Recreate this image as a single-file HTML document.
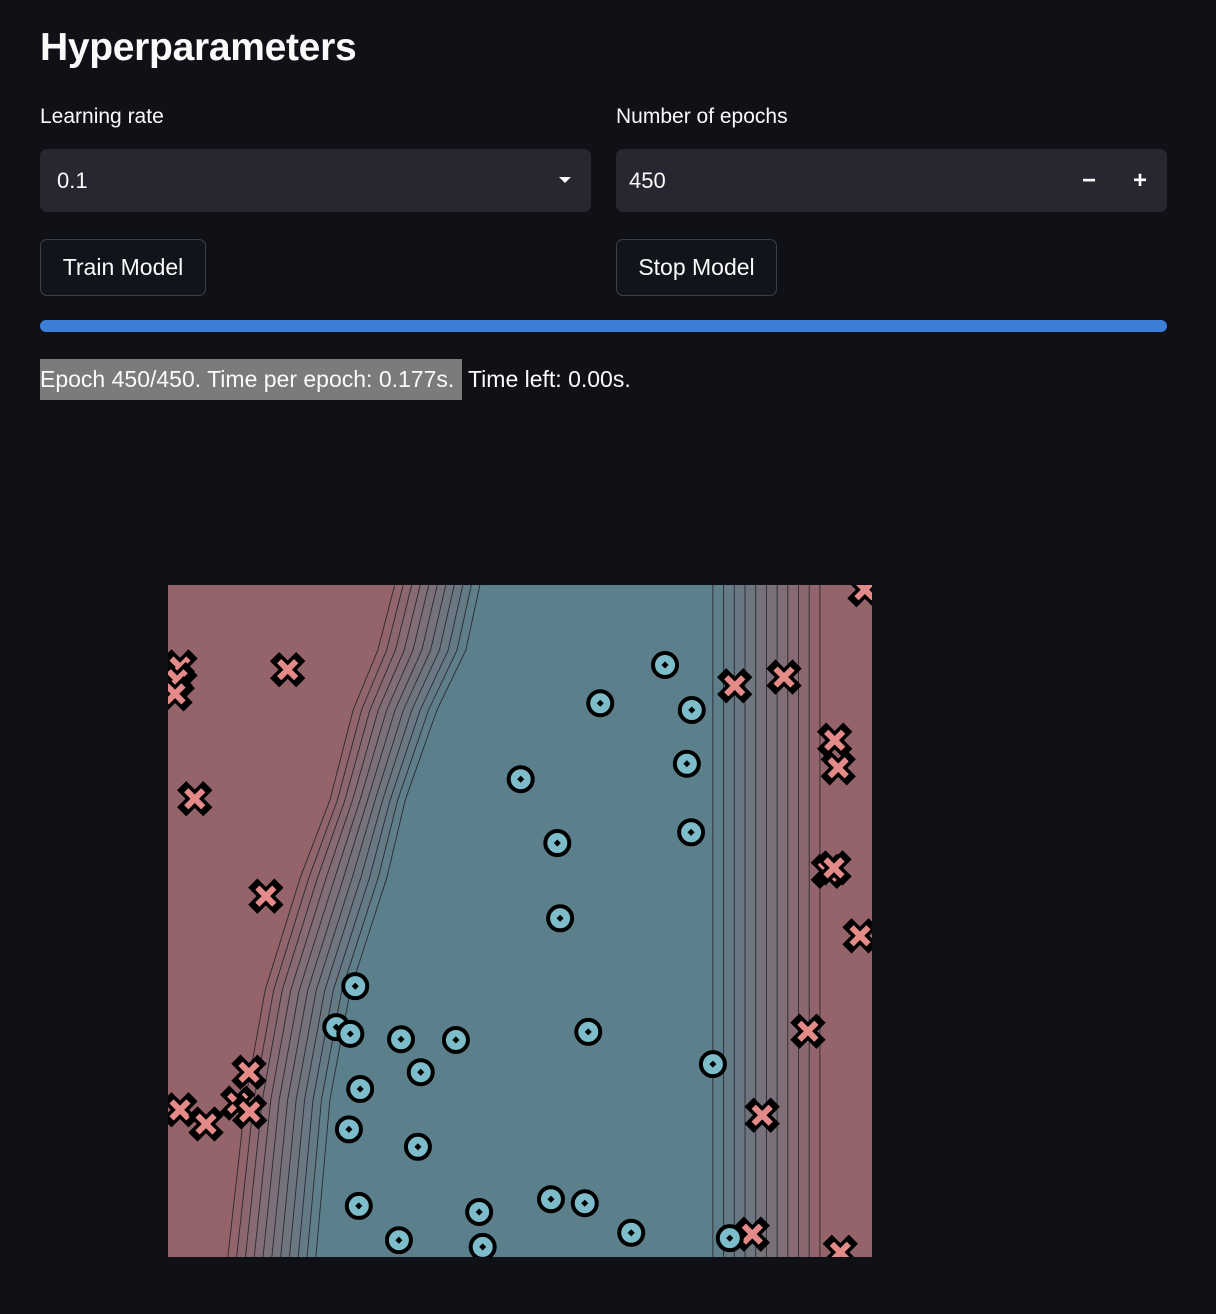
<!DOCTYPE html>
<html><head><meta charset="utf-8">
<style>
body{margin:0;background:#0f1117;width:1216px;height:1314px;overflow:hidden;font-family:"Liberation Sans",sans-serif;color:#fafafa;position:relative}
.abs{position:absolute}
h1{position:absolute;left:40px;top:26px;margin:0;font-size:39px;font-weight:bold;letter-spacing:-0.3px}
.lbl{font-size:21px;top:105px}
.box{background:#262730;border-radius:7px;top:149px;height:63px;width:551px;font-size:22px;line-height:63px}
.btn{top:239px;height:55px;border:1px solid #3d3f4a;border-radius:7px;background:#12141b;font-size:23px;line-height:55px;text-align:center}
</style></head><body>
<h1>Hyperparameters</h1>
<div class="abs lbl" style="left:40px">Learning rate</div>
<div class="abs lbl" style="left:616px">Number of epochs</div>
<div class="abs box" style="left:40px"><span style="margin-left:17px">0.1</span>
<span class="abs" style="right:20px;top:28px;width:0;height:0;border-left:6px solid transparent;border-right:6px solid transparent;border-top:6px solid #fafafa"></span></div>
<div class="abs box" style="left:616px"><span style="margin-left:13px">450</span>
<span class="abs" style="left:466px;top:0;font-size:24px;font-weight:bold">−</span>
<span class="abs" style="left:517px;top:0;font-size:24px;font-weight:bold">+</span></div>
<div class="abs btn" style="left:40px;width:164px">Train Model</div>
<div class="abs btn" style="left:616px;width:159px">Stop Model</div>
<div class="abs" style="left:40px;top:320px;width:1127px;height:12px;border-radius:6px;background:#3d7fd8"></div>
<div class="abs" style="left:40px;top:359px;height:40px;line-height:41px;font-size:23px;white-space:nowrap"><span style="background:#7b7b7b;display:inline-block;width:422px">Epoch 450/450. Time per epoch: 0.177s.</span> Time left: 0.00s.</div>
<svg id="chart" class="abs" style="left:0;top:0" width="1216" height="1314"></svg>
<script>
const classAX=[70.6,61.4,74.4,50.1,73.7,55.3,74.3,55.7,26.6,23.9,25.9,33.1,40.9,59.7,35.9,77.4,27.3,25.7,35.5,27.1,44.2,54.4,59.2,32.8,44.7,65.8,79.8];
const classAY=[88.1,82.4,81.4,71.1,73.4,61.6,63.2,50.4,40.3,34.2,33.2,32.4,32.3,33.5,27.5,28.7,25.0,19.0,16.4,7.6,6.7,8.6,8.0,2.5,1.5,3.6,2.8];
const classBX=[1.7,1.3,1.0,17.0,80.5,87.5,94.7,95.2,3.8,13.9,93.8,94.6,98.3,90.9,11.5,9.9,11.6,1.7,5.4,84.4,83.0,95.5,99.0];
const classBY=[87.8,85.9,83.8,87.4,85.0,86.3,76.9,72.8,68.2,53.7,57.4,57.9,47.8,33.6,27.5,22.9,21.6,21.9,19.8,21.1,3.4,0.7,99.3];
const leftBandY=[100,90.3,81.4,68.0,56.5,39.7,23.4,0];
const leftBandLo=[32.2,29.8,26.3,23.0,18.8,13.8,11.0,8.5];
const leftBandHi=[44.3,42.3,38.2,33.7,31.1,25.9,23.0,21.0];
const rightBandLo=77.4, rightBandHi=92.6;
const contourCount=11;

const X0=168,X1=872,Y0=1257,Y1=585;
const sx=v=>X0+v/100*(X1-X0), sy=v=>Y0-v/100*(Y0-Y1);
const svg=document.getElementById('chart');const NS='http://www.w3.org/2000/svg';
function mk(t,a){const e=document.createElementNS(NS,t);for(const k in a)e.setAttribute(k,a[k]);svg.appendChild(e);return e;}
const red=[149,99,106],blue=[91,127,139];
const mix=t=>'rgb('+red.map((c,i)=>Math.round(c+(blue[i]-c)*t)).join(',')+')';
let bg=mk('rect',{x:X0,y:Y1,width:X1-X0,height:Y0-Y1,fill:mix(1)});


function leftPath(f){return leftBandY.map((y,i)=>sx(leftBandLo[i]+(leftBandHi[i]-leftBandLo[i])*f)+','+sy(y));}
const n=contourCount-1;
for(let k=-1;k<n;k++){
 const a=k<0?null:leftPath(k/n), b=leftPath((k+1)/n);
 const pts=(a?a:leftBandY.map(y=>sx(0)+','+sy(y))).concat(b.slice().reverse());
 const p=mk('polygon',{points:pts.join(' '),fill:mix(Math.max(0,(k+0.5)/n))});
 
 
}
for(let k=-1;k<n;k++){
 const xa=k<0?100:rightBandHi-(rightBandHi-rightBandLo)*k/n;
 const xb=rightBandHi-(rightBandHi-rightBandLo)*(k+1)/n;
 const r=mk('rect',{x:sx(xb),y:Y1,width:sx(xa)-sx(xb),height:Y0-Y1,fill:mix(Math.max(0,(k+0.5)/n))});
 
 
}
for(let k=0;k<=n;k++){
 const l=mk('polyline',{points:leftPath(k/n).join(' '),fill:'none',stroke:'#2a2a30','stroke-width':0.9});
 
 
 const x=sx(rightBandLo+(rightBandHi-rightBandLo)*k/n);
 const r=mk('line',{x1:x,x2:x,y1:Y1,y2:Y0,stroke:'#2a2a30','stroke-width':0.9});
 
 
}
const clip=mk('clipPath',{id:'cp'});
const cr=document.createElementNS(NS,'rect');cr.setAttribute('x',X0);cr.setAttribute('y',Y1);cr.setAttribute('width',X1-X0);cr.setAttribute('height',Y0-Y1);clip.appendChild(cr);
const g=mk('g',{'clip-path':'url(#cp)'});
function add(t,a){const e=document.createElementNS(NS,t);for(const k in a)e.setAttribute(k,a[k]);g.appendChild(e);return e;}
classBX.forEach((v,i)=>{
 const cx=sx(v),cy=sy(classBY[i]),d=8.5;
 const grp=document.createElementNS(NS,'g');g.appendChild(grp);
 
 
 [['#000',13,'square'],['#e48a88',6,'butt']].forEach(([c,w,cap])=>{
  [[-d,-d,d,d],[-d,d,d,-d]].forEach(q=>{const l=document.createElementNS(NS,'line');
   l.setAttribute('x1',cx+q[0]);l.setAttribute('y1',cy+q[1]);l.setAttribute('x2',cx+q[2]);l.setAttribute('y2',cy+q[3]);
   l.setAttribute('stroke',c);l.setAttribute('stroke-width',w);l.setAttribute('stroke-linecap',cap);grp.appendChild(l);});
 });
});
classAX.forEach((v,i)=>{
 const cx=sx(v),cy=sy(classAY[i]);
 const c=add('circle',{cx:cx,cy:cy,r:12,fill:'#7cbccb',stroke:'#000','stroke-width':4});
 
 
 const d=add('rect',{x:cx-2.5,y:cy-2.5,width:5,height:5,fill:'#000',transform:`rotate(45 ${cx} ${cy})`});
 
 
});
</script>
</body></html>
